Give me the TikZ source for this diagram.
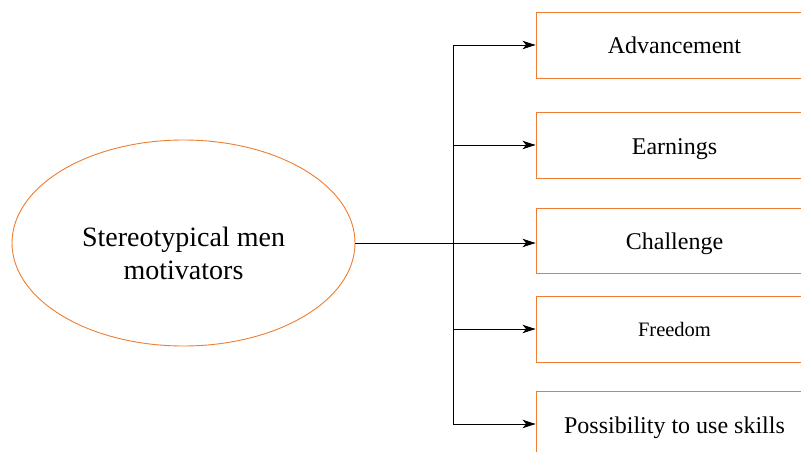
\documentclass[tikz,border=0pt]{standalone}
\usepackage{fontspec}
\setmainfont{Liberation Serif}
\usetikzlibrary{arrows.meta,shapes.geometric}
\definecolor{boxorange}{RGB}{237,125,49}
\begin{document}
\begin{tikzpicture}[x=1pt,y=-1pt,
  catbox/.style={draw=boxorange,line width=0.9pt,minimum width=277pt,inner sep=0pt,
    font=\fontsize{24}{28}\selectfont,text height=20pt,text depth=2pt},
  link/.style={line width=0.9pt,-{Stealth[length=13pt,width=8.5pt,inset=3.5pt]}},
  trunk/.style={line width=0.9pt}]
\useasboundingbox (0,0) rectangle (801,452);
\node[ellipse,draw=boxorange,line width=0.9pt,minimum width=343pt,minimum height=206pt,inner sep=0pt] (e) at (183.5,243) {};
\node[align=center,font=\fontsize{28}{33}\selectfont] (et) at (183.5,253) {Stereotypical men\\motivators};
\node[catbox,minimum height=66pt] (b1) at (674.5,45) {Advancement};
\node[catbox,minimum height=66pt] (b2) at (674.5,145) {Earnings};
\node[catbox,minimum height=65pt] (b3) at (674.5,240.5) {Challenge};
\node[catbox,minimum height=66pt,font=\fontsize{20.5}{24}\selectfont,text height=17pt,text depth=3pt] (b4) at (674.5,329) {Freedom};
\node[catbox,minimum height=66pt] (b5) at (674.5,424) {Possibility to use skills};
\coordinate (jx) at (453,243);
\draw[trunk] (b1.west -| jx) -- (b5.west -| jx);
\draw[link] (e.east) -- (e.east -| b3.west);
\draw[link] (b1.west -| jx) -- (b1.west);
\draw[link] (b2.west -| jx) -- (b2.west);
\draw[link] (b4.west -| jx) -- (b4.west);
\draw[link] (b5.west -| jx) -- (b5.west);
\end{tikzpicture}
\end{document}
